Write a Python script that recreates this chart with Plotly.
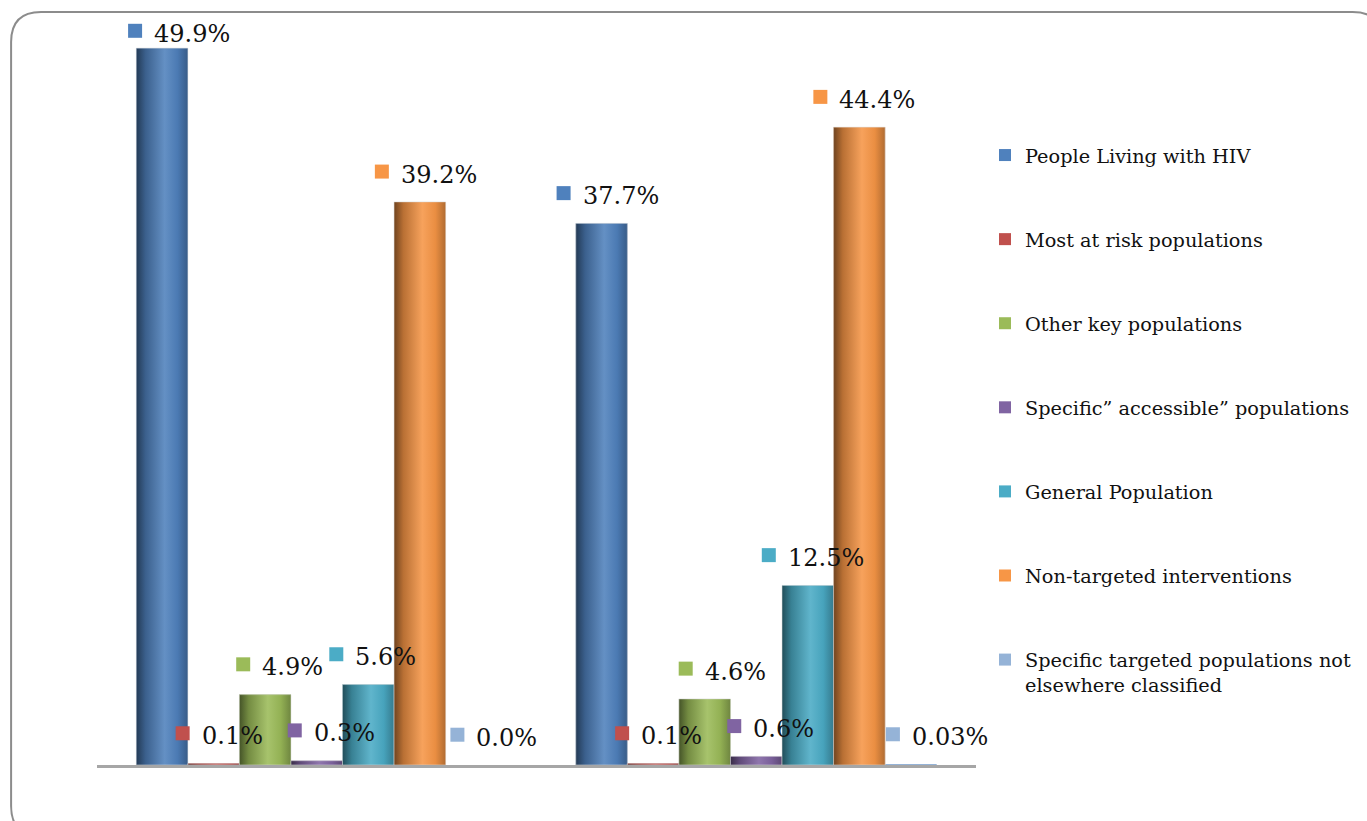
import plotly.graph_objects as go

# ---- data -------------------------------------------------------------
series_names = [
    "People Living with HIV",
    "Most at risk populations",
    "Other key populations",
    "Specific\u201d accessible\u201d populations",
    "General Population",
    "Non-targeted interventions",
    "Specific targeted populations not<br>elsewhere classified",
]
group_a_values = [49.9, 0.1, 4.9, 0.3, 5.6, 39.2, 0.0]
group_b_values = [37.7, 0.1, 4.6, 0.6, 12.5, 44.4, 0.03]
group_a_labels = ["49.9%", "0.1%", "4.9%", "0.3%", "5.6%", "39.2%", "0.0%"]
group_b_labels = ["37.7%", "0.1%", "4.6%", "0.6%", "12.5%", "44.4%", "0.03%"]

# ---- style ------------------------------------------------------------
colors = ["#4F81BD", "#C0504D", "#9BBB59", "#8064A2", "#4BACC6", "#F79646", "#95B3D7"]
label_dx_a = [-34, -38, -29, -29, -39, -45, -21]   # square offset from bar centre, px
label_dx_b = [-45, -38, -26, -29, -46, -46, -25]
FONT = "DejaVu Serif"

W, H = 1367, 821
ML, MR, MT, MB = 97, 390, 18, 56
PW, PH = W - ML - MR, H - MT - MB
Y_MAX = 52.0
BAR_W = 0.1173
START = -3.5 * BAR_W


def shade(hex_color, f):
    h = hex_color.lstrip("#")
    r, g, b = (int(h[i:i + 2], 16) for i in (0, 2, 4))
    if f <= 1:
        r, g, b = (int(c * f) for c in (r, g, b))
    else:
        t = f - 1
        r, g, b = (int(c + (255 - c) * t) for c in (r, g, b))
    return f"rgb({r},{g},{b})"


def cylinder_scale(c):
    return [[0.0, shade(c, 0.45)], [0.18, shade(c, 0.75)], [0.55, shade(c, 1.12)],
            [0.8, shade(c, 0.95)], [1.0, shade(c, 0.72)]]


fig = go.Figure()
groups = [0, 1]
all_values = [group_a_values, group_b_values]
all_labels = [group_a_labels, group_b_labels]
all_dx = [label_dx_a, label_dx_b]

# base bars (legend + data)
for i, name in enumerate(series_names):
    vals = [all_values[g][i] for g in groups]
    fig.add_trace(go.Bar(
        x=groups, y=vals, name=name, offset=START + i * BAR_W, width=BAR_W,
        marker=dict(color=colors[i], line=dict(width=0)),
        legendgroup=str(i), showlegend=True,
    ))

# cylinder shading laid over each bar
for g in groups:
    for i in range(len(series_names)):
        v = all_values[g][i]
        if v <= 0.05:
            continue
        x0 = g + START + i * BAR_W
        x1 = x0 + BAR_W
        fig.add_trace(go.Scatter(
            x=[x0, x0, x1, x1, x0], y=[0, v, v, 0, 0],
            mode="lines", line=dict(width=0.6, color="rgba(215,215,215,0.9)"),
            fill="toself",
            fillgradient=dict(type="horizontal", colorscale=cylinder_scale(colors[i])),
            hoverinfo="skip", showlegend=False,
        ))

# value labels: coloured square + text
for g in groups:
    for i in range(len(series_names)):
        v = all_values[g][i]
        xc = g + START + (i + 0.5) * BAR_W
        ly = min(v + 1.9, 50.9)
        dx = all_dx[g][i]
        fig.add_shape(type="rect", xref="x", yref="y", xsizemode="pixel", ysizemode="pixel",
                      xanchor=xc, yanchor=ly, x0=dx, x1=dx + 14, y0=-4, y1=10,
                      fillcolor=colors[i], line=dict(width=0), layer="above")
        fig.add_annotation(x=xc, y=ly, xref="x", yref="y", text=all_labels[g][i],
                           showarrow=False, xanchor="left", yanchor="middle",
                           xshift=dx + 24, font=dict(family=FONT, size=24, color="#111111"))


# rounded outer frame (pixel geometry converted to paper coordinates)
def px(xp, yp):
    return (xp - ML) / PW, (H - MB - yp) / PH


def pt(xp, yp):
    a, b = px(xp, yp)
    return f"{a:.5f},{b:.5f}"


fx0, fy0, fx1, fy1, rad = 11, 12, 1384, 836, 30
frame = (f"M {pt(fx0, fy1 - rad)} L {pt(fx0, fy0 + rad)} Q {pt(fx0, fy0)} {pt(fx0 + rad, fy0)} "
         f"L {pt(fx1 - rad, fy0)} Q {pt(fx1, fy0)} {pt(fx1, fy0 + rad)} "
         f"L {pt(fx1, fy1 - rad)} Q {pt(fx1, fy1)} {pt(fx1 - rad, fy1)} "
         f"L {pt(fx0 + rad, fy1)} Q {pt(fx0, fy1)} {pt(fx0, fy1 - rad)} Z")
fig.add_shape(type="path", xref="paper", yref="paper", path=frame,
              line=dict(color="#8c8c8c", width=2), layer="below")

lx, _ = px(985, 0)
_, ly_top = px(0, 136)
fig.update_layout(
    width=W, height=H,
    margin=dict(l=ML, r=MR, t=MT, b=MB),
    paper_bgcolor="white", plot_bgcolor="white",
    barmode="overlay",
    xaxis=dict(range=[-0.5, 1.5], showticklabels=False, ticks="", showgrid=False,
               zeroline=False, showline=True, linecolor="#a6a6a6", linewidth=3, fixedrange=True),
    yaxis=dict(range=[0, Y_MAX], visible=False, showgrid=False, zeroline=False, fixedrange=True),
    legend=dict(x=lx, y=ly_top, xanchor="left", yanchor="top", tracegroupgap=56,
                valign="top", font=dict(family=FONT, size=19.3, color="#111111"),
                bgcolor="rgba(0,0,0,0)", itemwidth=30),
    showlegend=True,
    font=dict(family=FONT),
)

fig.write_html("out.html")
